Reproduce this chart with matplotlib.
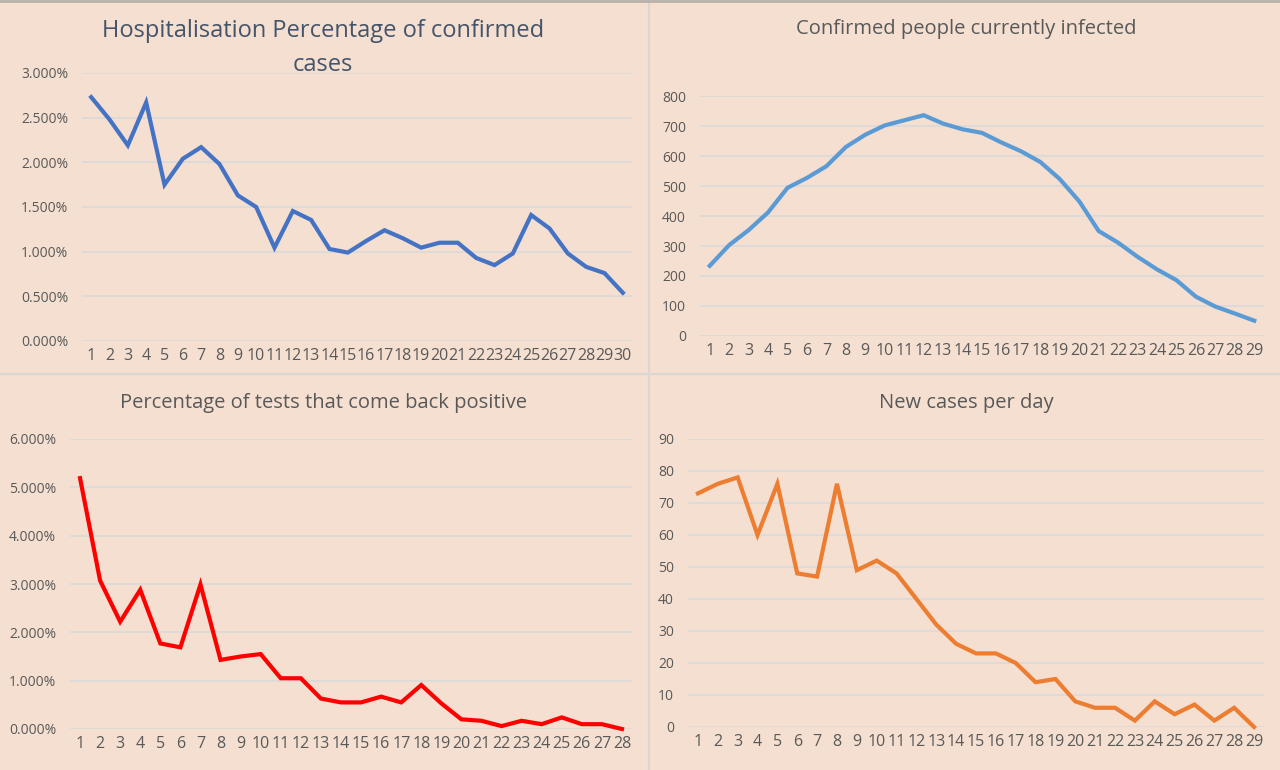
import matplotlib
matplotlib.use("Agg")
import matplotlib.pyplot as plt
from matplotlib.lines import Line2D
from matplotlib.ticker import FuncFormatter

# data
hosp_pct = [2.73, 2.48, 2.19, 2.67, 1.75, 2.04, 2.17, 1.98, 1.63, 1.50,
            1.045, 1.455, 1.355, 1.03, 0.99, 1.12, 1.24, 1.15, 1.045, 1.10,
            1.10, 0.93, 0.85, 0.98, 1.41, 1.26, 0.98, 0.83, 0.76, 0.54]
infected = [234, 303, 353, 412, 494, 527, 566, 630, 671, 702,
            719, 736, 708, 689, 677, 645, 616, 580, 523, 449,
            350, 311, 264, 222, 186, 131, 98, 75, 51]
positive_pct = [5.19, 3.07, 2.22, 2.88, 1.77, 1.69, 2.99, 1.43, 1.50, 1.55,
                1.05, 1.05, 0.63, 0.55, 0.55, 0.67, 0.55, 0.91, 0.53, 0.20,
                0.17, 0.06, 0.17, 0.10, 0.24, 0.10, 0.10, 0.0]
new_cases = [73, 76, 78, 60, 76, 48, 47, 76, 49, 52,
             48, 40, 32, 26, 23, 23, 20, 14, 15, 8,
             6, 6, 2, 8, 4, 7, 2, 6, 0]

titles = ["Hospitalisation Percentage of confirmed\ncases",
          "Confirmed people currently infected",
          "Percentage of tests that come back positive",
          "New cases per day"]

BG = "#f4dfd0"
GRID = "#d9d9d9"
TXT = "#595959"
W, H = 1280, 770

plt.rcParams['font.family'] = ['Open Sans', 'DejaVu Sans']

fig = plt.figure(figsize=(12.8, 7.7), dpi=100, facecolor=BG)


def px_axes(x0, x1, ytop, ybot):
    return fig.add_axes([x0 / W, 1 - ybot / H, (x1 - x0) / W, (ybot - ytop) / H])


def style(ax, values, ymax, ystep, fmt, color):
    n = len(values)
    xs = list(range(1, n + 1))
    ax.plot(xs, values, color=color, lw=3, solid_joinstyle='miter', clip_on=False)
    ax.set_xlim(0.5, n + 0.5)
    ax.set_ylim(0, ymax)
    ticks = [i * ystep for i in range(int(round(ymax / ystep)) + 1)]
    ax.set_yticks(ticks)
    ax.yaxis.set_major_formatter(FuncFormatter(fmt))
    ax.set_xticks(xs)
    ax.set_xticklabels([str(x) for x in xs])
    ax.set_facecolor(BG)
    for s in ax.spines.values():
        s.set_visible(False)
    ax.grid(axis='y', color=GRID, lw=1.2)
    ax.set_axisbelow(True)
    ax.tick_params(length=0, labelcolor=TXT)
    ax.tick_params(axis='y', pad=10, labelsize=10)
    ax.tick_params(axis='x', pad=5, labelsize=11.5)


pct = lambda v, p: f"{v:.3f}%"
num = lambda v, p: f"{v:.0f}"

ax1 = px_axes(82, 632, 73, 341)
style(ax1, hosp_pct, 3.0, 0.5, pct, "#4472c4")
ax2 = px_axes(700, 1264, 96, 336)
style(ax2, infected, 800, 100, num, "#5b9bd5")
ax3 = px_axes(70, 632, 439, 729)
style(ax3, positive_pct, 6.0, 1.0, pct, "#ff0000")
ax4 = px_axes(688, 1264, 439, 727)
style(ax4, new_cases, 90, 10, num, "#ed7d31")

fig.text(323 / W, 1 - 48 / H, titles[0], ha='center', va='center',
         fontsize=17, color="#44546a", linespacing=1.6)
fig.text(966 / W, 1 - 29 / H, titles[1], ha='center', va='center',
         fontsize=14.5, color=TXT)
fig.text(324 / W, 1 - 403 / H, titles[2], ha='center', va='center',
         fontsize=14.5, color=TXT)
fig.text(966 / W, 1 - 403 / H, titles[3], ha='center', va='center',
         fontsize=14.5, color=TXT)

# panel dividers
fig.add_artist(Line2D([649 / W, 649 / W], [0, 1], color="#dcd6d2", lw=1.5))
fig.add_artist(Line2D([0, 1], [1 - 374 / H, 1 - 374 / H], color="#dcd6d2", lw=1.5))
fig.add_artist(Line2D([0, 1], [1 - 1 / H, 1 - 1 / H], color="#b8b0aa", lw=2))

fig.savefig("out.png", dpi=100, facecolor=BG)
